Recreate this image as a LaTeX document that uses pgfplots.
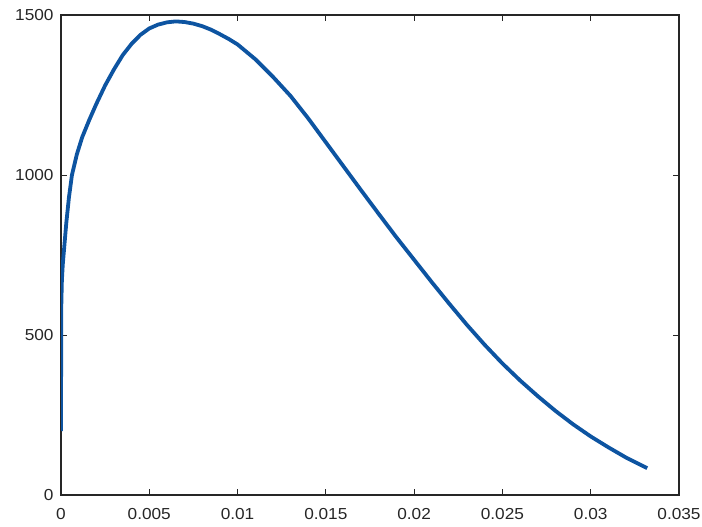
\documentclass[border=0pt]{standalone}
\usepackage{pgfplots}
\pgfplotsset{compat=1.18}
\usepackage{fontspec}
\setmainfont{Liberation Sans}[FakeStretch=1.08]
\definecolor{mblue}{rgb}{0.05,0.33,0.63}
\begin{document}
\fontsize{16}{18}\selectfont
\begin{tikzpicture}
\begin{axis}[
  scale only axis,
  width=618bp, height=480bp,
  xmin=0, xmax=0.035, ymin=0, ymax=1500,
  xtick={0,0.005,0.01,0.015,0.02,0.025,0.03,0.035},
  xticklabels={0,0.005,0.01,0.015,0.02,0.025,0.03,0.035},
  ytick={0,500,1000,1500},
  yticklabels={0,500,1000,1500},
  scaled x ticks=false,
  tick align=inside,
  major tick length=6bp,
  tick style={line width=0.8bp, black!85},
  axis line style={line width=1.1bp, black!85},
  every tick label/.append style={font=\fontsize{16}{18}\selectfont, text=black!85},
  xticklabel style={yshift=-8bp},
  yticklabel style={xshift=-2bp},
  /pgf/number format/assume math mode=true,
]
\addplot[color=mblue, line width=3.8bp, line join=round] coordinates {
(0,200) (0.00001,500) (0.00002,600) (0.00005,670) (0.0001,720) (0.00017,766)
(0.0003,850) (0.00045,930) (0.00062,1000) (0.0009,1065) (0.0012,1118)
(0.0016,1172) (0.002,1222) (0.0025,1280) (0.003,1330) (0.0035,1375)
(0.004,1410) (0.0045,1438) (0.005,1458) (0.0055,1470) (0.006,1477)
(0.0065,1480) (0.007,1478) (0.0075,1473) (0.008,1465) (0.0085,1454)
(0.009,1440) (0.0095,1425) (0.010,1408)
(0.011,1362) (0.012,1307) (0.013,1247) (0.014,1177) (0.015,1102)
(0.016,1027) (0.017,952) (0.018,878) (0.019,805) (0.020,735)
(0.021,665) (0.022,597) (0.023,531) (0.024,469) (0.025,411)
(0.026,358) (0.027,309) (0.028,263) (0.029,221) (0.030,183)
(0.031,149) (0.032,117) (0.0332,84)
};
\end{axis}
\pgfresetboundingbox
\path (current axis.south west) ++(-61bp,-32bp) coordinate (bbA);
\path (current axis.north east) ++(23bp,15bp) coordinate (bbB);
\useasboundingbox (bbA) rectangle (bbB);
\end{tikzpicture}
\end{document}
